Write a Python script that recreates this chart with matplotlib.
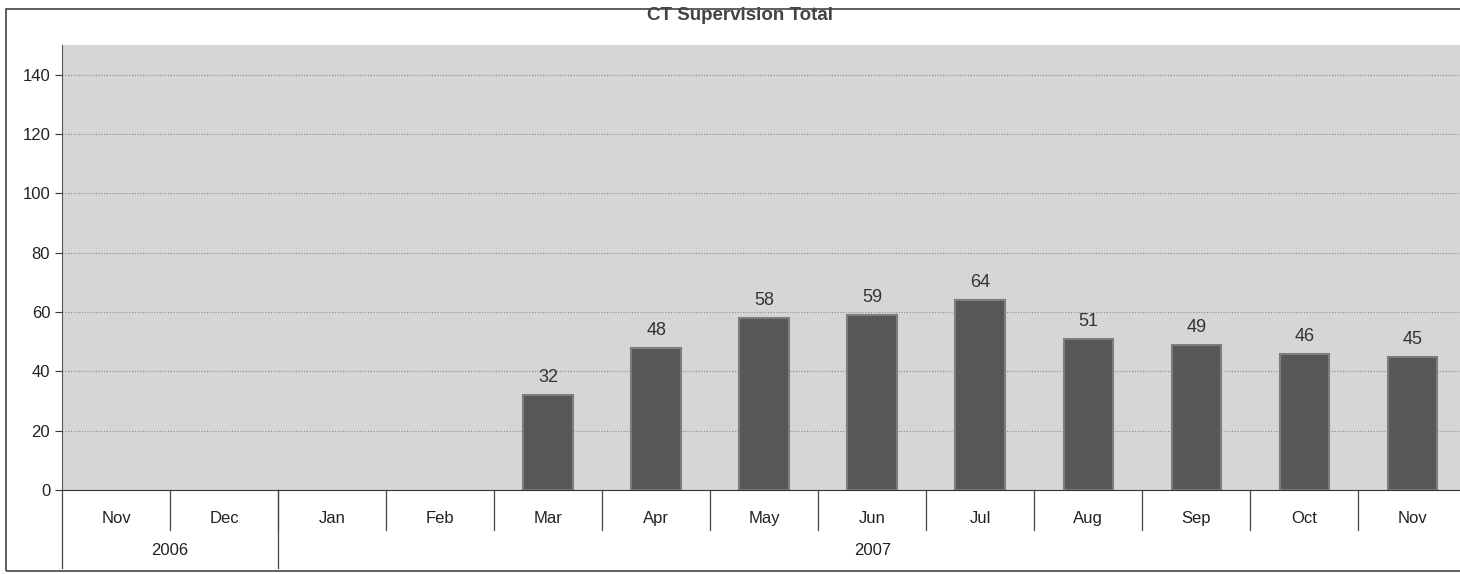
import matplotlib.pyplot as plt
from matplotlib.patches import Rectangle

plt.rcParams['font.family'] = ['Liberation Sans', 'DejaVu Sans']

months = ['Nov', 'Dec', 'Jan', 'Feb', 'Mar', 'Apr', 'May',
          'Jun', 'Jul', 'Aug', 'Sep', 'Oct', 'Nov']
years = ['2006', '2006', '2007', '2007', '2007', '2007', '2007',
         '2007', '2007', '2007', '2007', '2007', '2007']
totals = [None, None, None, None, 32, 48, 58, 59, 64, 51, 49, 46, 45]
yticks = [0, 20, 40, 60, 80, 100, 120, 140]

fig = plt.figure(figsize=(14.6, 5.74), dpi=100)
fig.patch.set_facecolor('white')

# outer frame of the chart object
fig.add_artist(Rectangle((6 / 1460, 3 / 574), 1.0, 562 / 574, transform=fig.transFigure,
                         fill=False, edgecolor='#444444', linewidth=1.2))

ax = fig.add_axes([62 / 1460, 84 / 574, 1398 / 1460, 445 / 574])
ax.set_facecolor('#d6d6d6')
ax.set_xlim(-0.5, 12.44)
ax.set_ylim(0, 150)

for y in yticks[1:]:
    ax.axhline(y, color='#8a8a8a', linewidth=0.8, linestyle=(0, (1, 1.5)), zorder=1)

xs = [i for i, v in enumerate(totals) if v is not None]
vals = [v for v in totals if v is not None]
ax.bar(xs, vals, width=0.46, color='#575757', edgecolor='#7d7d7d', linewidth=1.5, zorder=2)
for x, v in zip(xs, vals):
    ax.text(x, v + 3, str(v), ha='center', va='bottom', fontsize=13, color='#333333')

ax.set_yticks(yticks)
ax.tick_params(axis='y', labelsize=12, length=5, color='#333333', labelcolor='#222222')
ax.set_xticks([])
for side in ['top', 'right']:
    ax.spines[side].set_visible(False)
ax.spines['left'].set_color('#555555')
ax.spines['bottom'].set_color('#333333')

tr = ax.get_xaxis_transform()
# month row
for i, m in enumerate(months):
    ax.text(i, -0.063, m, transform=tr, ha='center', va='center', fontsize=12, color='#222222')
for i in range(1, len(months)):
    ax.plot([i - 0.5, i - 0.5], [0, -0.09], transform=tr, color='#444444',
            linewidth=0.9, clip_on=False)

# year row
groups = []
for i, y in enumerate(years):
    if groups and groups[-1][0] == y:
        groups[-1][2] = i
    else:
        groups.append([y, i, i])
for y, a, b in groups:
    ax.text((a + b) / 2, -0.135, y, transform=tr, ha='center', va='center',
            fontsize=12, color='#222222')
    ax.plot([a - 0.5, a - 0.5], [0, -0.175], transform=tr, color='#444444',
            linewidth=0.9, clip_on=False)

fig.text(740 / 1460, 1 - 16 / 574, 'CT Supervision Total', ha='center', va='center',
         fontsize=13.5, fontweight='bold', color='#444444')

fig.savefig('out.png', dpi=100)
